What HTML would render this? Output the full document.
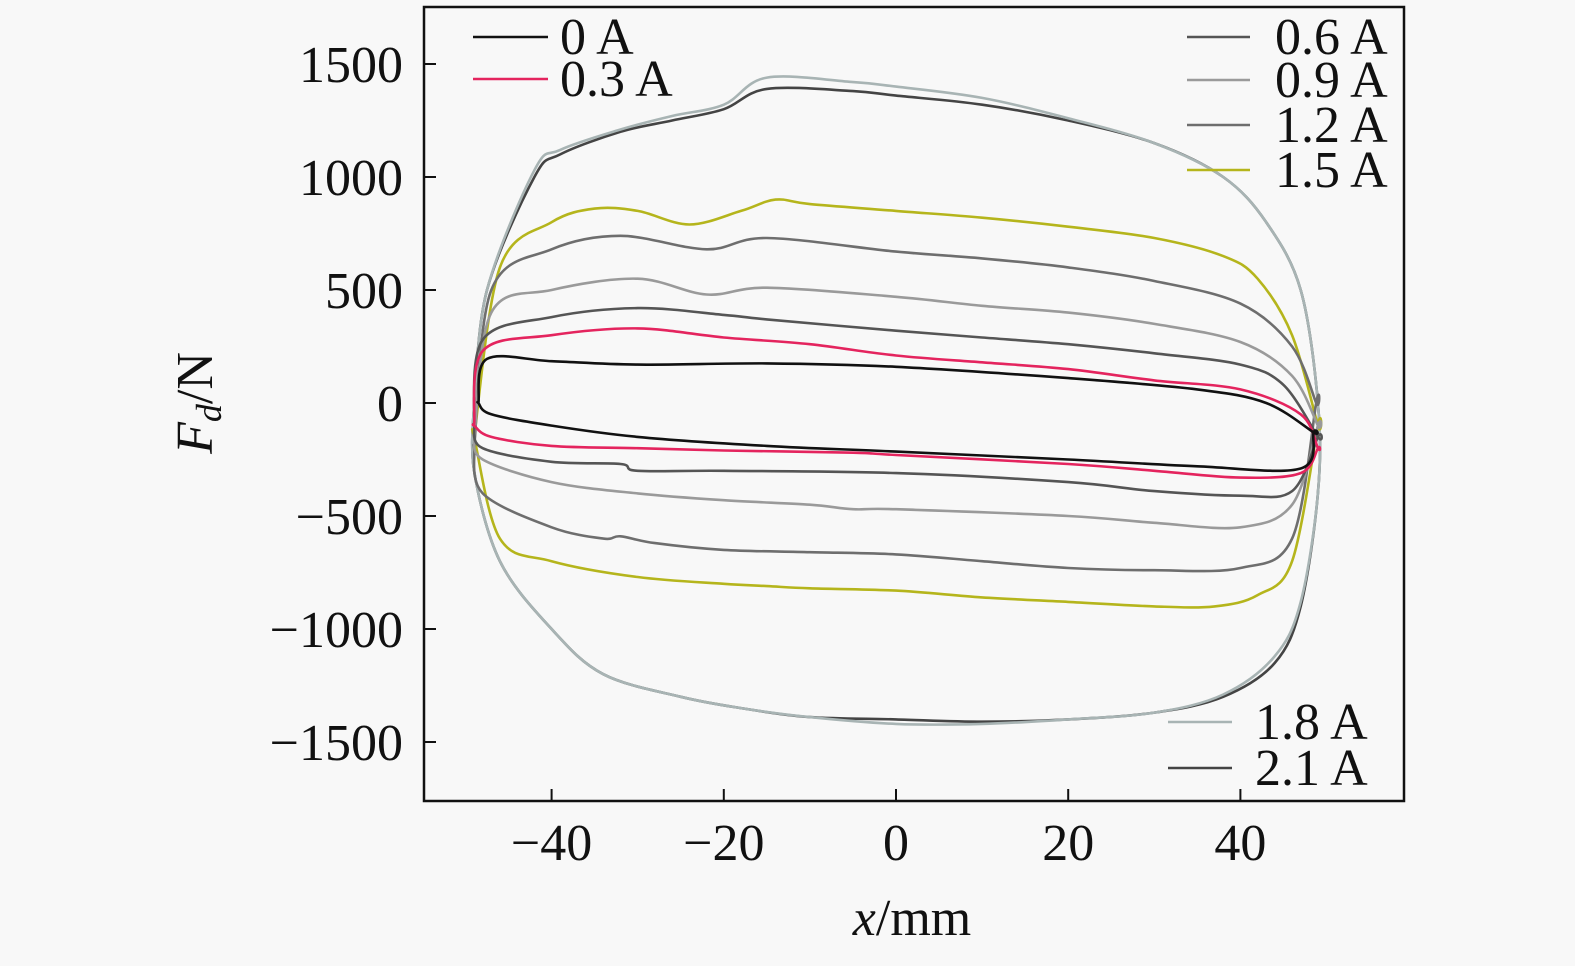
<!DOCTYPE html>
<html><head><meta charset="utf-8"><style>
body{margin:0;background:#f8f8f8;}
svg text{font-family:"Liberation Serif",serif;fill:#111;}
</style></head><body>
<svg id="chart" width="1575" height="961" viewBox="0 0 1575 961" xmlns="http://www.w3.org/2000/svg">
<rect width="1575" height="961" fill="#f8f8f8"/>
<g id="series"></g>
<rect x="424" y="7" width="980" height="794" fill="none" stroke="#111" stroke-width="2.5"/>
<g id="axes"></g>
<text x="912" y="935" font-size="52" text-anchor="middle"><tspan font-style="italic">x</tspan>/mm</text>
<text transform="translate(212,403) rotate(-90)" font-size="52" text-anchor="middle"><tspan font-style="italic">F</tspan><tspan font-style="italic" font-size="36" dy="9">d</tspan><tspan dy="-9">/N</tspan></text>
<g id="legend"></g>
</svg>
<script>
const xTicks=[-40,-20,0,20,40];
const yTicks=[1500,1000,500,0,-500,-1000,-1500];
const labels=["0 A","0.3 A","0.6 A","0.9 A","1.2 A","1.5 A","1.8 A","2.1 A"];
const colors=["#111","#e4245e","#555","#9a9a9a","#6e6e6e","#b5b51c","#a8b4b4","#444"];
const up0X=[-48.5,-47.5,-40,-30,-15,0,20,35,43,48.5];
const up0Y=[0,195,185,170,175,160,110,60,0,-130];
const lo0X=[-48.5,-47,-40,-30,-15,0,20,35,47,48.5];
const lo0Y=[0,-50,-100,-150,-190,-215,-250,-280,-290,-130];
const up1X=[-49,-48,-40,-30,-20,-10,0,10,20,30,40,47,49];
const up1Y=[-100,230,300,330,290,260,210,180,150,100,60,-50,-200];
const lo1X=[-49,-47,-40,-30,-20,-5,0,20,30,40,47,49];
const lo1Y=[-100,-150,-190,-200,-210,-220,-230,-270,-300,-330,-310,-200];
const up2X=[-49,-48,-40,-30,-20,-15,0,10,20,30,40,45,49];
const up2Y=[-100,280,380,420,390,370,320,290,260,220,170,80,-150];
const lo2X=[-49,-48,-40,-32,-30,-20,0,20,30,40,46,49];
const lo2Y=[-100,-200,-260,-270,-300,-300,-310,-350,-390,-410,-390,-150];
const up3X=[-49,-47,-40,-30,-22,-15,0,10,20,30,40,46,49];
const up3Y=[-150,400,500,550,480,510,470,430,400,350,270,120,-100];
const lo3X=[-49,-48,-40,-30,-20,-10,-5,0,20,30,40,46,49];
const lo3Y=[-150,-250,-350,-400,-430,-450,-470,-470,-500,-530,-550,-450,-100];
const up4X=[-49,-47,-40,-32,-22,-15,0,10,20,30,40,46,48.8];
const up4Y=[-200,500,680,740,680,730,670,640,600,540,440,250,0];
const lo4X=[-49,-48,-40,-34,-32,-28,-20,-10,0,10,20,30,40,46,48.8];
const lo4Y=[-200,-400,-550,-600,-590,-620,-650,-660,-670,-700,-730,-740,-730,-600,0];
const up5X=[-49,-46,-40,-35,-30,-24,-18,-14,-10,0,10,20,30,38,42,46,49];
const up5Y=[-150,600,800,860,850,790,850,900,880,850,820,780,730,650,550,300,-100];
const lo5X=[-49,-46,-40,-30,-20,-15,-10,0,10,20,30,37,42,46,49];
const lo5Y=[-150,-600,-700,-770,-800,-810,-820,-830,-860,-880,-900,-900,-850,-700,-100];
const up6X=[-49,-47.5,-42,-39,-32,-26,-20,-15,-5,0,10,20,30,38,43,47,49];
const up6Y=[0,500,1030,1120,1210,1270,1320,1440,1420,1400,1350,1260,1150,1000,800,500,0];
const lo6X=[-49,-49,-46,-40,-34,-25,-18,-10,0,10,20,30,38,44,47,49];
const lo6Y=[0,-300,-700,-1000,-1200,-1300,-1350,-1390,-1420,-1420,-1400,-1370,-1290,-1120,-880,-400];
const up7X=[-49,-47.5,-42,-39,-32,-26,-20,-15,-5,0,10,20,30,38,43,47,49];
const up7Y=[0,500,1000,1100,1200,1250,1300,1390,1380,1360,1320,1250,1150,1000,800,500,0];
const lo7X=[-49,-49,-46,-40,-34,-25,-18,-10,0,10,20,30,38,44,47,49];
const lo7Y=[0,-300,-700,-1000,-1200,-1300,-1350,-1390,-1400,-1410,-1400,-1370,-1300,-1150,-900,-400];
const ups=[[up0X,up0Y],[up1X,up1Y],[up2X,up2Y],[up3X,up3Y],[up4X,up4Y],[up5X,up5Y],[up6X,up6Y],[up7X,up7Y]];
const los=[[lo0X,lo0Y],[lo1X,lo1Y],[lo2X,lo2Y],[lo3X,lo3Y],[lo4X,lo4Y],[lo5X,lo5Y],[lo6X,lo6Y],[lo7X,lo7Y]];

const NS="http://www.w3.org/2000/svg";
function sx(v){return 896+v*8.61;}
function sy(v){return 403-v*0.226;}
function smooth(pts){
  let d="M"+pts[0][0].toFixed(1)+","+pts[0][1].toFixed(1);
  for(let i=0;i<pts.length-1;i++){
    const p0=pts[Math.max(0,i-1)],p1=pts[i],p2=pts[i+1],p3=pts[Math.min(pts.length-1,i+2)];
    const c1=[p1[0]+(p2[0]-p0[0])/6,p1[1]+(p2[1]-p0[1])/6];
    const c2=[p2[0]-(p3[0]-p1[0])/6,p2[1]-(p3[1]-p1[1])/6];
    d+="C"+c1[0].toFixed(1)+","+c1[1].toFixed(1)+" "+c2[0].toFixed(1)+","+c2[1].toFixed(1)+" "+p2[0].toFixed(1)+","+p2[1].toFixed(1);
  }
  return d;
}
const sg=document.getElementById("series");
for(let k=ups.length-1;k>=0;k--){
  const [ux,uy]=ups[k],[lx,ly]=los[k];
  const pts=[];
  for(let i=0;i<ux.length;i++)pts.push([sx(ux[i]),sy(uy[i])]);
  for(let i=lx.length-1;i>=0;i--)pts.push([sx(lx[i]),sy(ly[i])]);
  pts.push(pts[0]);
  const p=document.createElementNS(NS,"path");
  p.setAttribute("d",smooth(pts));
  p.setAttribute("fill","none");
  p.setAttribute("stroke",colors[k]);
  p.setAttribute("stroke-width","2.6");
  
  
  sg.appendChild(p);
}
const ax=document.getElementById("axes");
xTicks.forEach(v=>{
  const l=document.createElementNS(NS,"line");
  l.setAttribute("x1",sx(v));l.setAttribute("x2",sx(v));l.setAttribute("y1",801);l.setAttribute("y2",789);
  l.setAttribute("stroke","#111");l.setAttribute("stroke-width","2");
  
  
  ax.appendChild(l);
  const t=document.createElementNS(NS,"text");
  t.setAttribute("x",sx(v));t.setAttribute("y",860);t.setAttribute("font-size","52");t.setAttribute("text-anchor","middle");
  t.textContent=v<0?"\u2212"+Math.abs(v):String(v);
  
  
  ax.appendChild(t);
});
yTicks.forEach(v=>{
  const l=document.createElementNS(NS,"line");
  l.setAttribute("x1",424);l.setAttribute("x2",436);l.setAttribute("y1",sy(v));l.setAttribute("y2",sy(v));
  l.setAttribute("stroke","#111");l.setAttribute("stroke-width","2");
  
  
  ax.appendChild(l);
  const t=document.createElementNS(NS,"text");
  t.setAttribute("x",403);t.setAttribute("y",sy(v)+18);t.setAttribute("font-size","52");t.setAttribute("text-anchor","end");
  t.textContent=v<0?"\u2212"+Math.abs(v):String(v);
  
  
  ax.appendChild(t);
});
const legPos=[[473,548,37,560],[473,548,79,560],[1187,1250,37,1275],[1187,1250,80,1275],[1187,1250,125,1275],[1187,1250,170,1275],[1168,1232,722,1255],[1168,1232,768,1255]];
const lg=document.getElementById("legend");
labels.forEach((lab,k)=>{
  const [x1,x2,y,tx]=legPos[k];
  const l=document.createElementNS(NS,"line");
  l.setAttribute("x1",x1);l.setAttribute("x2",x2);l.setAttribute("y1",y);l.setAttribute("y2",y);
  l.setAttribute("stroke",colors[k]);l.setAttribute("stroke-width","2.6");
  
  
  lg.appendChild(l);
  const t=document.createElementNS(NS,"text");
  t.setAttribute("x",tx);t.setAttribute("y",y+17);t.setAttribute("font-size","52");
  t.textContent=lab;
  
  
  lg.appendChild(t);
});
</script>
</body></html>
